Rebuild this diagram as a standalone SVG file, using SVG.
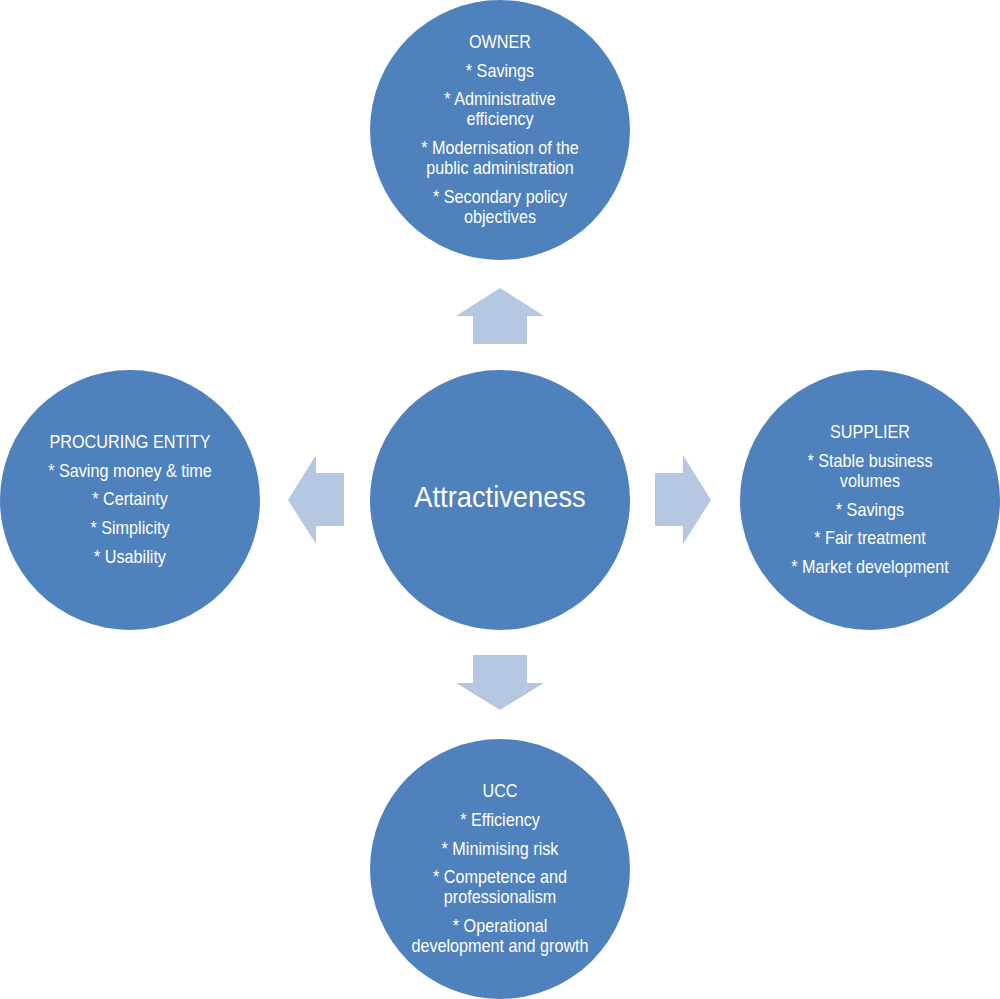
<svg xmlns="http://www.w3.org/2000/svg" width="1000" height="999" viewBox="0 0 1000 999">
<style>
.node{fill:#4F81BD}
.arr{fill:#B6C7E1}
text{font-family:"Liberation Sans",Arial,sans-serif;fill:#FFFFFF;text-anchor:middle}
.t{font-size:17.8px}
.big{font-size:30px}
</style>
<rect width="1000" height="999" fill="#FFFFFF"/>
<g id="connectors">
<polygon class="arr" points="500,288 544,316 527,316 527,344 473,344 473,316 456,316"/>
<polygon class="arr" points="288,500 316,455 316,473 344,473 344,526 316,526 316,544"/>
<polygon class="arr" points="711,500 683,455 683,473 655,473 655,526 683,526 683,544"/>
<polygon class="arr" points="500,710 544,683 527,683 527,655 473,655 473,683 456,683"/>
</g>
<g id="center">
<circle class="node" cx="500" cy="500" r="130"/>
<g transform="matrix(0.91 0 0 1 500 0)"><text class="big" x="0" y="507">Attractiveness</text></g>
</g>
<g id="owner">
<circle class="node" cx="500" cy="130" r="130"/>
<g transform="matrix(0.91 0 0 1 500 0)" class="t">
<text x="0" y="48">OWNER</text>
<text x="0" y="77">* Savings</text>
<text x="0" y="105">* Administrative</text>
<text x="0" y="125">efficiency</text>
<text x="0" y="154">* Modernisation of the</text>
<text x="0" y="174">public administration</text>
<text x="0" y="203">* Secondary policy</text>
<text x="0" y="223">objectives</text>
</g>
</g>
<g id="procuring">
<circle class="node" cx="130" cy="500" r="130"/>
<g transform="matrix(0.91 0 0 1 130 0)" class="t">
<text x="0" y="448">PROCURING ENTITY</text>
<text x="0" y="477">* Saving money &amp; time</text>
<text x="0" y="505">* Certainty</text>
<text x="0" y="534">* Simplicity</text>
<text x="0" y="563">* Usability</text>
</g>
</g>
<g id="supplier">
<circle class="node" cx="870" cy="500" r="130"/>
<g transform="matrix(0.91 0 0 1 870 0)" class="t">
<text x="0" y="438">SUPPLIER</text>
<text x="0" y="467">* Stable business</text>
<text x="0" y="487">volumes</text>
<text x="0" y="516">* Savings</text>
<text x="0" y="544">* Fair treatment</text>
<text x="0" y="573">* Market development</text>
</g>
</g>
<g id="ucc">
<circle class="node" cx="500" cy="869" r="130"/>
<g transform="matrix(0.91 0 0 1 500 0)" class="t">
<text x="0" y="797">UCC</text>
<text x="0" y="826">* Efficiency</text>
<text x="0" y="855">* Minimising risk</text>
<text x="0" y="883">* Competence and</text>
<text x="0" y="903">professionalism</text>
<text x="0" y="932">* Operational</text>
<text x="0" y="952">development and growth</text>
</g>
</g>
</svg>
